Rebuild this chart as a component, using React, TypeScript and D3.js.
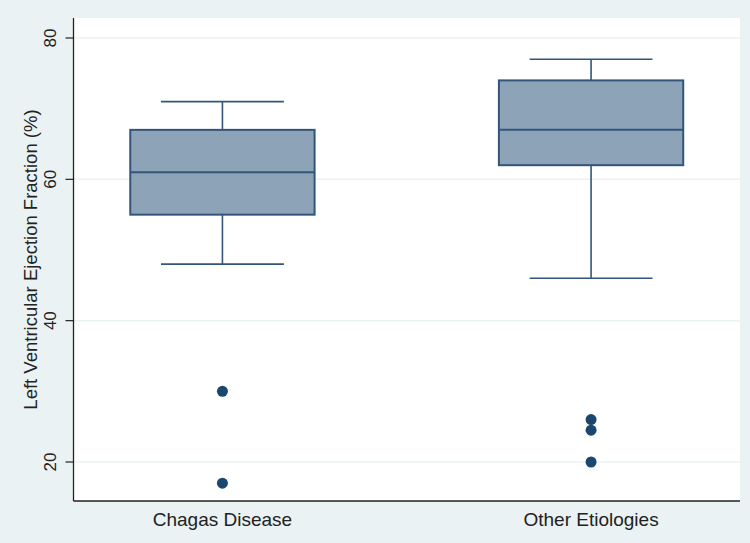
import * as d3 from "d3";

const categories = ["Chagas Disease", "Other Etiologies"];
// [lower whisker, Q1, median, Q3, upper whisker]
const boxStats = [
  [48, 55, 61, 67, 71],
  [46, 62, 67, 74, 77],
];
const outliers = [
  [30, 17],
  [26, 24.5, 20],
];
const yTicks = [20, 40, 60, 80];
const yTitle = "Left Ventricular Ejection Fraction (%)";

const W = 750;
const H = 543;
const plot = { left: 73.5, right: 740, top: 18, bottom: 501 };

const NAVY = "#1a476f";
const FONT = "'Liberation Sans', Arial, sans-serif";

export default function App() {
  const y = d3.scaleLinear().domain([14.48, 82.83]).range([plot.bottom, plot.top]);
  const x = d3
    .scalePoint<string>()
    .domain(categories)
    .range([plot.left, plot.right])
    .padding(0.404);
  const step = x.step();
  const boxW = step * 0.5;
  const capW = step / 3;

  return (
    <svg
      width={W}
      height={H}
      style={{ position: "absolute", left: 0, top: 0, display: "block" }}
    >
      <rect width={W} height={H} fill="#eaf2f3" />
      <rect
        x={plot.left}
        y={plot.top}
        width={plot.right - plot.left}
        height={plot.bottom - plot.top}
        fill="#ffffff"
      />

      {/* gridlines */}
      {yTicks.map((t) => (
        <line
          key={"g" + t}
          x1={plot.left}
          x2={plot.right}
          y1={y(t)}
          y2={y(t)}
          stroke="#eaf2f3"
          strokeWidth={1.5}
        />
      ))}

      {/* boxes */}
      {categories.map((c, i) => {
        const [lo, q1, med, q3, hi] = boxStats[i];
        const cx = x(c) as number;
        return (
          <g key={c}>
            <line x1={cx} x2={cx} y1={y(hi)} y2={y(q3)} stroke="#34557a" strokeWidth={1.6} />
            <line x1={cx} x2={cx} y1={y(q1)} y2={y(lo)} stroke="#34557a" strokeWidth={1.6} />
            <line
              x1={cx - capW / 2}
              x2={cx + capW / 2}
              y1={y(hi)}
              y2={y(hi)}
              stroke="#34557a"
              strokeWidth={1.6}
            />
            <line
              x1={cx - capW / 2}
              x2={cx + capW / 2}
              y1={y(lo)}
              y2={y(lo)}
              stroke="#34557a"
              strokeWidth={1.6}
            />
            <rect
              x={cx - boxW / 2}
              y={y(q3)}
              width={boxW}
              height={y(q1) - y(q3)}
              fill="#8ca3b8"
              stroke="#34557a"
              strokeWidth={2}
            />
            <line
              x1={cx - boxW / 2}
              x2={cx + boxW / 2}
              y1={y(med)}
              y2={y(med)}
              stroke="#34557a"
              strokeWidth={2}
            />
            {outliers[i].map((v, j) => (
              <circle key={j} cx={cx} cy={y(v)} r={5.5} fill={NAVY} />
            ))}
          </g>
        );
      })}

      {/* axes */}
      <line
        x1={plot.left}
        x2={plot.left}
        y1={plot.top}
        y2={plot.bottom}
        stroke="#222"
        strokeWidth={1.3}
      />
      <line
        x1={plot.left}
        x2={plot.right}
        y1={plot.bottom}
        y2={plot.bottom}
        stroke="#222"
        strokeWidth={1.3}
      />
      {yTicks.map((t) => (
        <g key={"t" + t}>
          <line
            x1={plot.left - 8}
            x2={plot.left}
            y1={y(t)}
            y2={y(t)}
            stroke="#222"
            strokeWidth={1.2}
          />
          <text
            transform={`translate(56,${y(t)}) rotate(-90)`}
            textAnchor="middle"
            fontFamily={FONT}
            fontSize={17}
            fill="#222"
          >
            {t}
          </text>
        </g>
      ))}
      {categories.map((c) => (
        <text
          key={"x" + c}
          x={x(c) as number}
          y={526}
          textAnchor="middle"
          fontFamily={FONT}
          fontSize={19}
          fill="#222"
        >
          {c}
        </text>
      ))}
      <text
        transform={`translate(37,${(plot.top + plot.bottom) / 2}) rotate(-90)`}
        textAnchor="middle"
        fontFamily={FONT}
        fontSize={18.5}
        fill="#222"
      >
        {yTitle}
      </text>
    </svg>
  );
}
